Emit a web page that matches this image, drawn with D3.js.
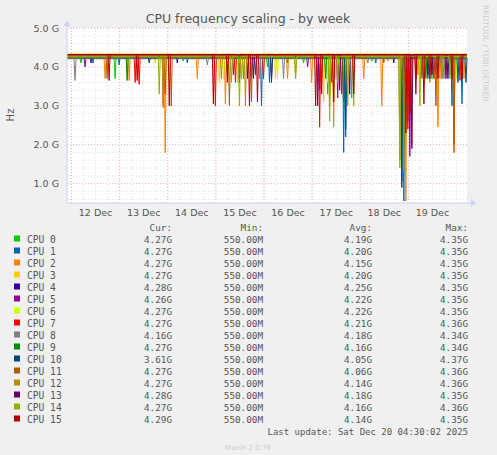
<!DOCTYPE html>
<html><head><meta charset="utf-8">
<script src="https://cdn.jsdelivr.net/npm/d3@7"></script>
<style>body{margin:0;background:#f0f0f0}svg{display:block}</style>
</head><body>
<script>
const names=["CPU 0","CPU 1","CPU 2","CPU 3","CPU 4","CPU 5","CPU 6","CPU 7","CPU 8","CPU 9","CPU 10","CPU 11","CPU 12","CPU 13","CPU 14","CPU 15"];
const colors=["#00cc00","#0066b3","#ff8000","#ffcc00","#330099","#990099","#ccff00","#ff0000","#808080","#008f00","#00487d","#b35a00","#b38f00","#6b006b","#8fb300","#b30000"];
const cur=["4.27G","4.27G","4.27G","4.27G","4.28G","4.26G","4.27G","4.27G","4.16G","4.27G","3.61G","4.27G","4.27G","4.28G","4.27G","4.29G"];
const minv=Array(16).fill("550.00M");
const avg=["4.19G","4.20G","4.15G","4.20G","4.25G","4.22G","4.22G","4.21G","4.18G","4.16G","4.05G","4.06G","4.14G","4.18G","4.16G","4.14G"];
const maxv=["4.35G","4.35G","4.35G","4.35G","4.35G","4.35G","4.35G","4.36G","4.34G","4.34G","4.37G","4.36G","4.36G","4.35G","4.36G","4.35G"];
const base=[4.24,4.27,4.22,4.33,4.31,4.25,4.29,4.28,4.21,4.26,4.23,4.30,4.25,4.32,4.27,4.31];
// dips per series: [hours since start, value in G]
const dips=[
[[7,4.1],[24,3.7],[58,4.15],[88,3.7],[100,4.0],[118,4.1],[130,3.3],[152,4.15],[167,2.5],[170,3.2],[182,3.7],[194,3.9]],
[[13,4.1],[26,4.05],[60,4.1],[97,3.0],[101,3.6],[110,4.1],[138,1.8],[139,2.2],[154,4.1],[167,1.05],[168,0.55],[180,3.7],[186,3.9],[192,3.0],[193,1.8],[197,3.05]],
[[19,3.7],[31,3.65],[49,1.8],[65,3.7],[79,3.05],[87,3.7],[110,3.7],[122,3.6],[133,2.45],[148,3.7],[157,3.0],[160,4.15],[169,0.55],[175,3.8],[185,2.45],[186,3.7],[193,1.8],[198,3.7]],
[[44,4.1],[76,3.6],[85,3.6],[104,3.7],[128,3.1],[134,3.7],[172,2.0],[178,3.6],[196,3.8]],
[[12,4.1],[55,4.1],[90,3.7],[126,3.4],[141,3.3],[163,4.1],[170,2.6],[180,3.8],[190,3.7]],
[[9,4.0],[83,3.8],[102,3.7],[120,4.0],[135,3.2],[171,1.7],[177,3.8],[187,3.7]],
[[30,3.7],[78,3.7],[105,3.7],[130,3.6],[140,3.7],[167,4.0],[176,3.6],[194,3.7]],
[[34,3.6],[36,3.55],[48,3.0],[74,3.0],[84,3.6],[98,3.7],[126,2.45],[132,3.6],[137,3.3],[170,2.4],[174,3.7],[183,3.7],[196,3.65]],
[[4,3.65],[70,4.05],[96,3.7],[108,3.7],[142,3.2],[150,4.1],[169,3.6],[188,3.7]],
[[30,3.65],[80,3.8],[92,3.7],[129,3.7],[138,3.1],[168,2.0],[179,3.7],[191,3.8]],
[[41,4.1],[94,3.8],[102,3.6],[139,2.4],[167,0.9],[184,3.8],[195,3.6],[199,3.6]],
[[20,3.7],[49,3.3],[52,3.0],[81,3.0],[92,3.1],[125,3.6],[131,3.0],[158,4.1],[166,1.6],[177,3.7],[184,3.0],[193,2.0]],
[[48,2.95],[77,3.7],[89,3.0],[114,3.7],[127,3.7],[140,3.0],[168,1.3],[181,3.6],[189,3.8]],
[[86,3.6],[93,3.7],[125,3.0],[136,3.4],[172,1.9],[182,3.8],[189,3.7]],
[[46,3.3],[82,3.6],[86,3.0],[114,3.7],[131,2.6],[135,3.6],[143,3.0],[166,1.4],[176,3.0],[187,3.7],[191,3.7]],
[[21,3.65],[35,3.65],[51,3.0],[73,3.05],[80,3.6],[91,3.0],[95,3.1],[124,3.0],[127,3.3],[133,3.1],[143,3.3],[169,2.3],[171,2.8],[174,3.3],[178,3.05],[181,3.7],[185,3.7],[192,3.7],[197,3.7]]
];
const yTicks=[1,2,3,4,5];
const dayLabels=["12 Dec","13 Dec","14 Dec","15 Dec","16 Dec","17 Dec","18 Dec","19 Dec"];
const T_END=199.5, MIDNIGHT0=2.25;

const W=497,H=455,L=67,R=467,TOP=28,BOT=203;
const svg=d3.select("body").append("svg").attr("width",W).attr("height",H);
svg.append("rect").attr("width",W).attr("height",H).attr("fill","#f0f0f0");
const x=d3.scaleLinear().domain([0,T_END]).range([L,R]);
const y=d3.scaleLinear().domain([0.5,5.0]).range([BOT,TOP]);
svg.append("rect").attr("x",L).attr("y",TOP).attr("width",R-L).attr("height",BOT-TOP).attr("fill","#fff");
const g=svg.append("g");
for(let v=0.6;v<5.01;v+=0.2){if(Math.abs(v-Math.round(v))<0.01)continue;
 g.append("line").attr("x1",L).attr("x2",R).attr("y1",y(v)).attr("y2",y(v)).attr("stroke","#ccc").attr("stroke-dasharray","1,2").attr("stroke-width",0.6);}
for(let t=MIDNIGHT0-18;t<T_END;t+=6){if(t<0)continue;
 g.append("line").attr("x1",x(t)).attr("x2",x(t)).attr("y1",TOP).attr("y2",BOT).attr("stroke","#ccc").attr("stroke-dasharray","1,2").attr("stroke-width",0.6);}
yTicks.forEach(v=>g.append("line").attr("x1",L).attr("x2",R).attr("y1",y(v)).attr("y2",y(v)).attr("stroke","#e6a0a0").attr("stroke-dasharray","1,2").attr("stroke-width",0.8));
dayLabels.forEach((d,i)=>{const t=MIDNIGHT0+24*i;g.append("line").attr("x1",x(t)).attr("x2",x(t)).attr("y1",TOP).attr("y2",BOT).attr("stroke","#e6a0a0").attr("stroke-dasharray","1,2").attr("stroke-width",0.8);});
const line=d3.line().x(d=>x(d[0])).y(d=>y(d[1]));
dips.forEach((ds,i)=>{
 const pts=[[0,base[i]]];
 ds.slice().sort((a,b)=>a[0]-b[0]).forEach(([t,v])=>{pts.push([t-0.5,base[i]],[t,v],[t+0.5,base[i]]);});
 pts.push([T_END,base[i]]);
 svg.append("path").attr("d",line(pts)).attr("fill","none").attr("stroke",colors[i]).attr("stroke-width",1);
});
svg.append("line").attr("x1",L).attr("x2",R+6).attr("y1",BOT).attr("y2",BOT).attr("stroke","#ccd4f0");
svg.append("line").attr("x1",L).attr("x2",L).attr("y1",TOP-5).attr("y2",BOT).attr("stroke","#ccd4f0");
svg.append("path").attr("d",`M${R+4},${BOT-4}L${R+9},${BOT}L${R+4},${BOT+4}Z`).attr("fill","#ccd4f0");
svg.append("path").attr("d",`M${L-4},${TOP-2}L${L},${TOP-7}L${L+4},${TOP-2}Z`).attr("fill","#ccd4f0");
const font="DejaVu Sans, sans-serif";
yTicks.forEach(v=>svg.append("text").attr("x",L-8).attr("y",y(v)+3.5).attr("text-anchor","end").attr("font-family",font).attr("font-size",9.5).attr("fill","#555").text(v.toFixed(1)+" G"));
dayLabels.forEach((d,i)=>svg.append("text").attr("x",x(MIDNIGHT0+24*i+12)).attr("y",216).attr("text-anchor","middle").attr("font-family",font).attr("font-size",9.5).attr("fill","#555").text(d));
svg.append("text").attr("x",248).attr("y",23).attr("text-anchor","middle").attr("font-family",font).attr("font-size",12.5).attr("fill","#555").text("CPU frequency scaling - by week");
svg.append("text").attr("transform","translate(14,115) rotate(-90)").attr("text-anchor","middle").attr("font-family",font).attr("font-size",10).attr("fill","#555").text("Hz");
svg.append("text").attr("transform","translate(483,5) rotate(90)").attr("font-family",font).attr("font-size",7.5).attr("fill","#ccc").text("RRDTOOL / TOBI OETIKER");
const mono="DejaVu Sans Mono, monospace";
const hdr=[["Cur:",172],["Min:",263],["Avg:",372],["Max:",468]];
hdr.forEach(([t,xx])=>svg.append("text").attr("x",xx).attr("y",231).attr("text-anchor","end").attr("font-family",mono).attr("font-size",9.3).attr("fill","#555").text(t));
names.forEach((n,i)=>{const yy=243+12*i;
 svg.append("rect").attr("x",14).attr("y",yy-7.5).attr("width",6).attr("height",6).attr("fill",colors[i]);
 svg.append("text").attr("x",27).attr("y",yy).attr("font-family",mono).attr("font-size",9.6).attr("fill","#555").text(n);
 [[cur[i],172],[minv[i],263],[avg[i],372],[maxv[i],468]].forEach(([t,xx])=>svg.append("text").attr("x",xx).attr("y",yy).attr("text-anchor","end").attr("font-family",mono).attr("font-size",9.3).attr("fill","#555").text(t));
});
svg.append("text").attr("x",468).attr("y",435).attr("text-anchor","end").attr("font-family",mono).attr("font-size",9).attr("fill","#555").text("Last update: Sat Dec 20 04:30:02 2025");
svg.append("text").attr("x",248).attr("y",450).attr("text-anchor","middle").attr("font-family",font).attr("font-size",7).attr("fill","#ccc").text("Munin 2.0.76");
</script>
</body></html>
